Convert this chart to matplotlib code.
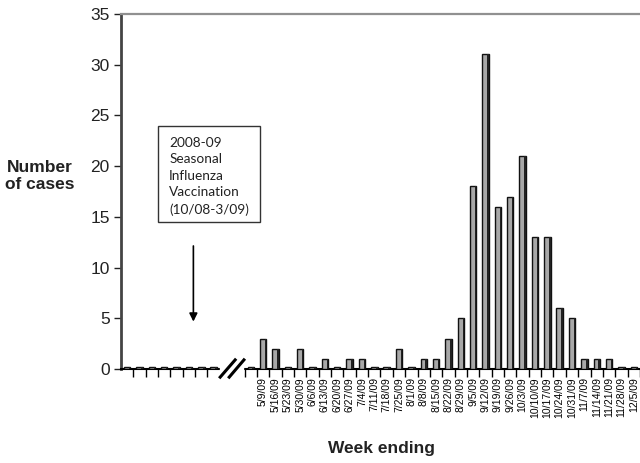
import matplotlib
matplotlib.use("Agg")
import matplotlib.pyplot as plt
from matplotlib.patches import Rectangle

# leading weeks before the axis break (no labels), all zero
lead_values = [0] * 11

weeks = ["5/9/09", "5/16/09", "5/23/09", "5/30/09", "6/6/09", "6/13/09", "6/20/09",
         "6/27/09", "7/4/09", "7/11/09", "7/18/09", "7/25/09", "8/1/09", "8/8/09",
         "8/15/09", "8/22/09", "8/29/09", "9/5/09", "9/12/09", "9/19/09", "9/26/09",
         "10/3/09", "10/10/09", "10/17/09", "10/24/09", "10/31/09", "11/7/09",
         "11/14/09", "11/21/09", "11/28/09", "12/5/09"]
cases = [3, 2, 0, 2, 0, 1, 0, 1, 1, 0, 0, 2, 0, 1, 1, 3, 5, 18, 31, 16, 17,
         21, 13, 13, 6, 5, 1, 1, 1, 0, 0]

plt.rcParams['font.family'] = ['Liberation Sans', 'DejaVu Sans']

values = lead_values + cases
labels = [""] * len(lead_values) + weeks
x = [i + 0.5 for i in range(len(values))]

fig = plt.figure(figsize=(6.4, 4.63), dpi=100)
ax = fig.add_axes([0.189, 0.203, 0.811, 0.767])

heights = [v if v > 0 else 0.22 for v in values] #flat stub for zero weeks
ax.bar(x, heights, width=0.52, color="#a8a8a8", edgecolor="#111111", linewidth=1.0, zorder=3)
# darker right side for the 3d look
ax.bar([xi + 0.2 for xi in x], heights, width=0.12, color="#222222", linewidth=0, zorder=4)

ax.set_xlim(0, 41.77)
ax.set_ylim(0, 35)
ax.set_yticks(range(0, 36, 5))
ax.tick_params(axis='y', labelsize=12.5, length=5, width=1, pad=3, colors="#222222")

ax.set_xticks(x)
ax.set_xticklabels(labels, rotation=90, fontsize=7.5)
ax.tick_params(axis='x', length=0, pad=6)
# ticks sit on category boundaries
bounds = [b for b in range(1, len(values) + 1) if b not in (8, 9)]
ax.set_xticks(bounds, minor=True)
ax.tick_params(axis='x', which='minor', length=6, width=1)

ax.spines['right'].set_visible(False)
ax.spines['top'].set_color("#909090")
ax.spines['top'].set_linewidth(1.6)
ax.spines['left'].set_color("#444444")
ax.spines['left'].set_linewidth(2.0)
ax.spines['bottom'].set_linewidth(1.5)

# axis break
ax.add_patch(Rectangle((8.0, -0.4), 1.9, 0.9, color="white", zorder=6, clip_on=False))
ax.plot([8.03, 9.24], [-0.8, 0.9], color="black", lw=2.2, zorder=7, clip_on=False)
ax.plot([8.76, 9.95], [-0.8, 0.9], color="black", lw=2.2, zorder=7, clip_on=False)

# vaccination note
ax.add_patch(Rectangle((2.97, 14.5), 8.27, 9.46, fill=False, edgecolor="#333333", lw=1.0, zorder=5))
ax.text(3.9, 19.0, "2008-09\nSeasonal\nInfluenza\nVaccination\n(10/08-3/09)",
        family="Lato", fontsize=9.8, va="center", ha="left", linespacing=1.45, color="#222222")
ax.annotate("", xy=(5.86, 4.4), xytext=(5.86, 12.4),
            arrowprops=dict(arrowstyle="-|>", color="black", lw=1.2, mutation_scale=12))

fig.text(40 / 640, 1 - 176 / 463, "Number\nof cases", fontsize=12.5, fontweight="bold",
         ha="center", va="center", linespacing=1.2, color="#222222")
fig.text(382 / 640, 1 - 449 / 463, "Week ending", fontsize=12.5, fontweight="bold",
         ha="center", va="center", color="#222222")

fig.savefig("out.png", dpi=100)
